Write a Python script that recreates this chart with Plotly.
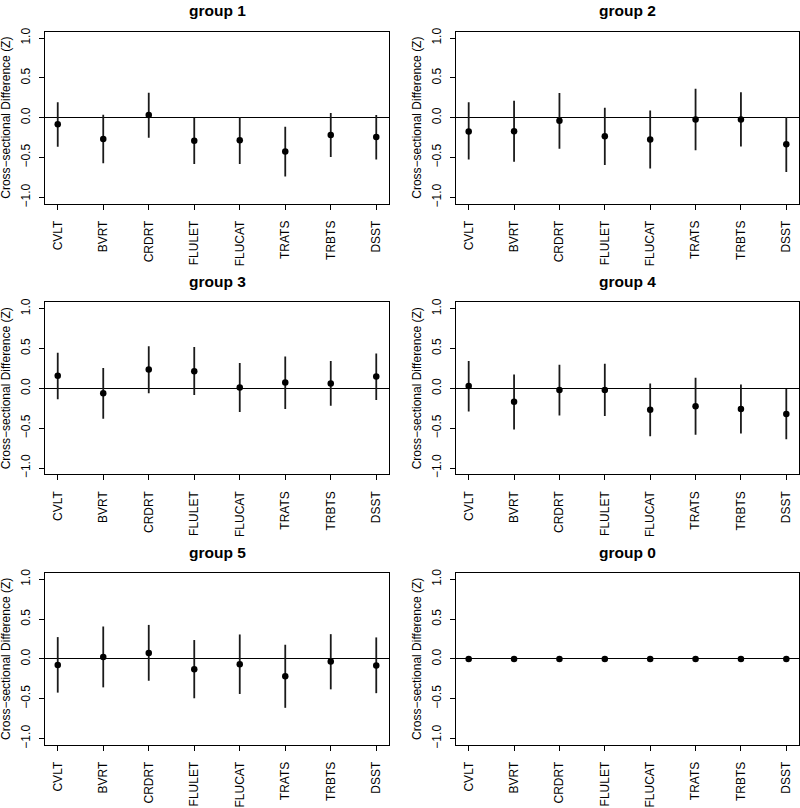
import plotly.graph_objects as go
from plotly.subplots import make_subplots

tests = ["CVLT", "BVRT", "CRDRT", "FLULET", "FLUCAT", "TRATS", "TRBTS", "DSST"]
group_names = ["group 1", "group 2", "group 3", "group 4", "group 5", "group 0"]

# point estimates and interval bounds
g1_est = [-0.083, -0.266, 0.033, -0.290, -0.282, -0.423, -0.216, -0.241]
g1_low = [-0.365, -0.573, -0.253, -0.580, -0.580, -0.739, -0.494, -0.523]
g1_up = [0.195, 0.037, 0.315, 0.000, 0.010, -0.112, 0.058, 0.033]

g2_est = [-0.174, -0.170, -0.037, -0.232, -0.274, -0.021, -0.021, -0.332]
g2_low = [-0.523, -0.552, -0.390, -0.593, -0.639, -0.407, -0.361, -0.680]
g2_up = [0.195, 0.212, 0.311, 0.124, 0.091, 0.365, 0.320, 0.008]

g3_est = [0.157, -0.062, 0.236, 0.215, 0.012, 0.074, 0.062, 0.149]
g3_low = [-0.136, -0.380, -0.062, -0.083, -0.298, -0.260, -0.219, -0.145]
g3_up = [0.446, 0.256, 0.529, 0.520, 0.318, 0.400, 0.343, 0.438]

g4_est = [0.029, -0.169, -0.021, -0.021, -0.269, -0.223, -0.260, -0.322]
g4_low = [-0.289, -0.517, -0.339, -0.347, -0.600, -0.583, -0.566, -0.640]
g4_up = [0.343, 0.174, 0.298, 0.310, 0.062, 0.132, 0.050, -0.008]

g5_est = [-0.075, 0.025, 0.075, -0.129, -0.066, -0.216, -0.033, -0.083]
g5_low = [-0.423, -0.357, -0.274, -0.494, -0.440, -0.614, -0.382, -0.430]
g5_up = [0.274, 0.407, 0.427, 0.237, 0.307, 0.178, 0.311, 0.270]

g0_est = [0, 0, 0, 0, 0, 0, 0, 0]
g0_low = [0, 0, 0, 0, 0, 0, 0, 0]
g0_up = [0, 0, 0, 0, 0, 0, 0, 0]

panels = [
    (g1_est, g1_low, g1_up),
    (g2_est, g2_low, g2_up),
    (g3_est, g3_low, g3_up),
    (g4_est, g4_low, g4_up),
    (g5_est, g5_low, g5_up),
    (g0_est, g0_low, g0_up),
]

W, H = 800, 808
FONT = "Liberation Sans, Arial, Helvetica, sans-serif"

col_px = [(45, 389), (456, 799)]
row_top_px = [28, 301.7, 575.3]
plot_h = 174

fig = make_subplots(rows=3, cols=2)

annotations = []
for i, (est, low, up) in enumerate(panels):
    r, c = i // 2, i % 2
    n = i + 1
    x0, x1 = col_px[c]
    top = row_top_px[r]
    bot = top + plot_h

    fig.add_trace(go.Scatter(
        x=tests,
        y=est,
        mode="markers",
        marker=dict(color="black", size=6.5, symbol="circle"),
        error_y=dict(
            type="data",
            symmetric=False,
            array=[u - e for u, e in zip(up, est)],
            arrayminus=[e - l for e, l in zip(est, low)],
            width=0,
            thickness=1.8,
            color="#1a1a1a",
        ),
        showlegend=False,
    ), row=r + 1, col=c + 1)

    xa = "xaxis" if n == 1 else f"xaxis{n}"
    ya = "yaxis" if n == 1 else f"yaxis{n}"
    fig.layout[xa].update(
        domain=[x0 / W, x1 / W],
        type="category",
        range=[-0.28, 7.28],
        showline=True, mirror=True, linecolor="black", linewidth=1,
        showgrid=False, zeroline=False,
        ticks="outside", ticklen=5, tickcolor="black", tickwidth=1,
        tickangle=-90, ticklabelstandoff=6,
        tickfont=dict(family=FONT, size=12, color="black"),
    )
    fig.layout[ya].update(
        domain=[1 - bot / H, 1 - top / H],
        range=[-1.08, 1.08],
        tickvals=[-1, -0.5, 0, 0.5, 1],
        tickformat=".1f",
        showline=True, mirror=True, linecolor="black", linewidth=1,
        showgrid=False,
        zeroline=True, zerolinecolor="black", zerolinewidth=1,
        ticks="outside", ticklen=5, tickcolor="black", tickwidth=1,
        tickangle=-90, ticklabelstandoff=4,
        tickfont=dict(family=FONT, size=12, color="black"),
    )

    # panel title
    annotations.append(dict(
        text="<b>" + group_names[i] + "</b>",
        x=(x0 + x1) / 2 / W, y=1 - (top - 21) / H,
        xref="paper", yref="paper", xanchor="center", yanchor="middle",
        showarrow=False, font=dict(family=FONT, size=15.5, color="black"),
    ))
    # y axis title
    annotations.append(dict(
        text="Cross\u2212sectional Difference (Z)",
        x=(x0 - 39) / W, y=1 - (top + plot_h / 2) / H,
        xref="paper", yref="paper", xanchor="center", yanchor="middle",
        textangle=-90, showarrow=False,
        font=dict(family=FONT, size=12, color="black"),
    ))

fig.update_layout(
    width=W, height=H,
    margin=dict(l=0, r=0, t=0, b=0),
    paper_bgcolor="white",
    plot_bgcolor="white",
    annotations=annotations,
    font=dict(family=FONT, color="black"),
)

# drop the default page margin so the figure fills the window exactly
fig.write_html(
    "out.html",
    config={"displayModeBar": False},
    post_script="document.body.style.margin='0';document.body.style.overflow='hidden';",
)
